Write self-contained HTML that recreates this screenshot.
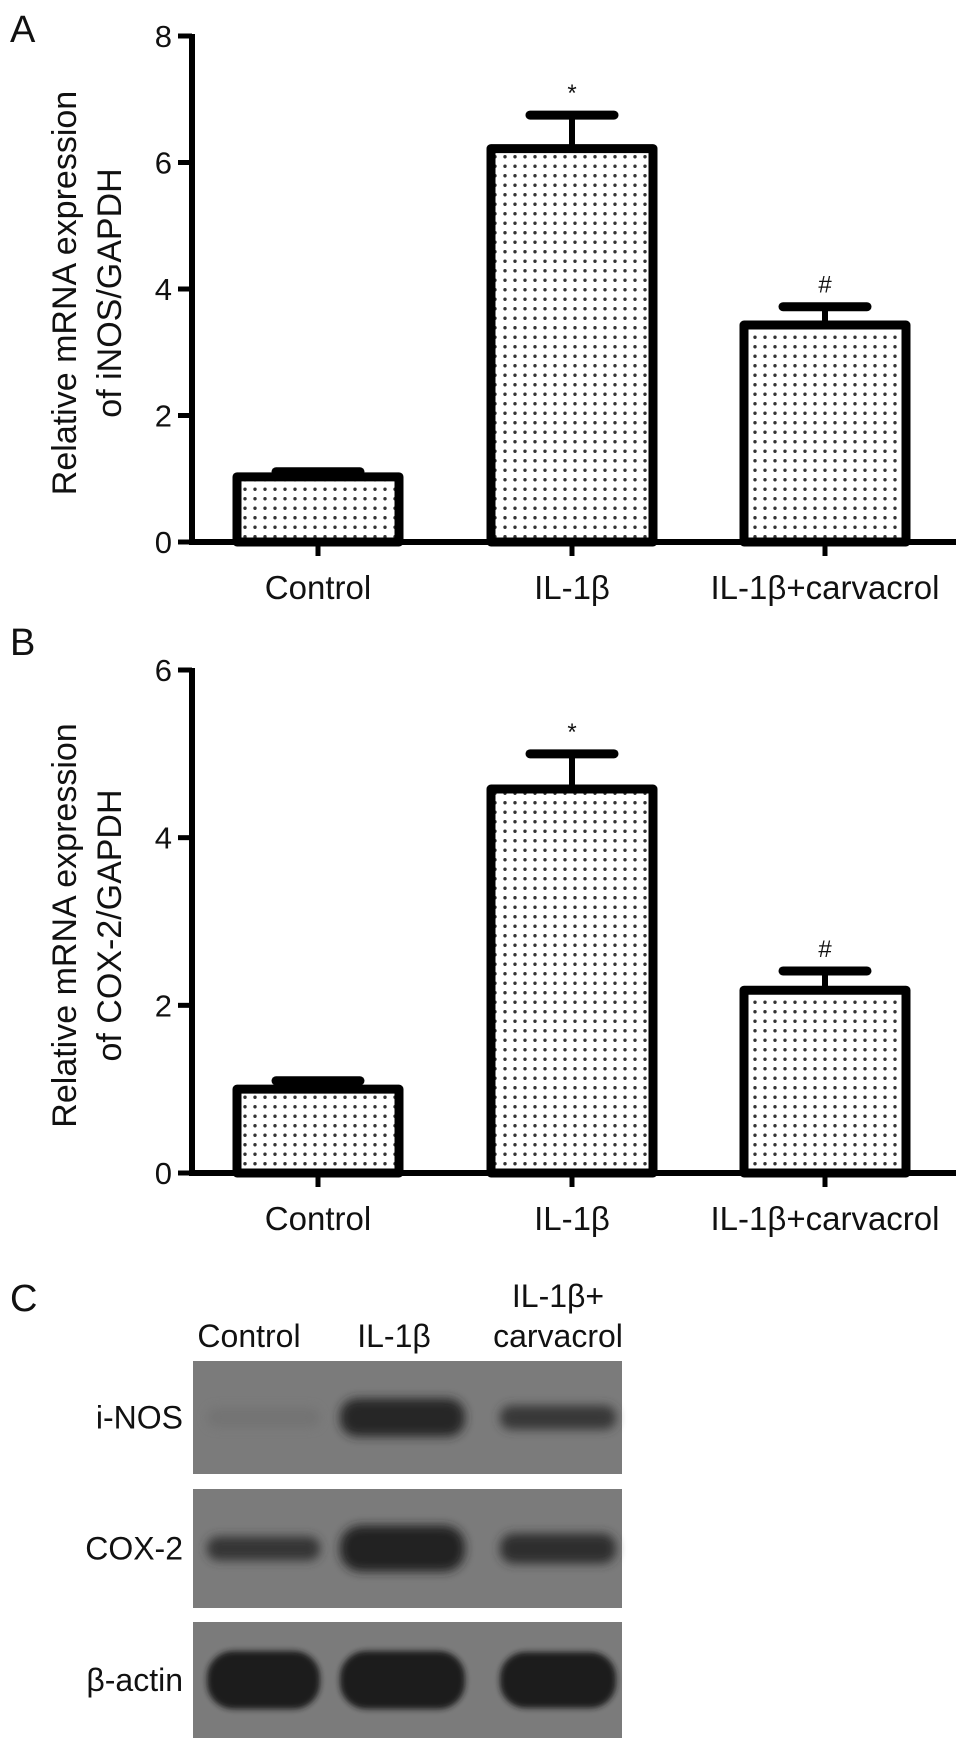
<!DOCTYPE html>
<html>
<head>
<meta charset="utf-8">
<style>
  html,body{margin:0;padding:0;background:#fff;}
  svg{display:block;}
  text{font-family:"Liberation Sans",Arial,sans-serif;fill:#111;}
</style>
</head>
<body>
<svg id="fig" width="969" height="1750" viewBox="0 0 969 1750" xmlns="http://www.w3.org/2000/svg">
  <defs>
    <pattern id="dots" x="0" y="0" width="10" height="9.5" patternUnits="userSpaceOnUse">
      <rect width="10" height="9.5" fill="#fff"/>
      <circle cx="5" cy="4.75" r="1.7" fill="#333"/>
    </pattern>
    <filter id="blur6" x="-20%" y="-60%" width="140%" height="220%"><feGaussianBlur stdDeviation="5"/></filter>
    <filter id="blur3" x="-20%" y="-60%" width="140%" height="220%"><feGaussianBlur stdDeviation="3"/></filter>
  </defs>
  <text x="10" y="42" font-size="38">A</text>
  <text x="10" y="655" font-size="38">B</text>
  <text x="10" y="1311" font-size="38">C</text>
  <g id="chartA"></g>
  <g id="chartB"></g>
  <g id="blots"></g>
</svg>
<script>
const categories = ["Control", "IL-1β", "IL-1β+carvacrol"];
const inosMeans = [1.03, 6.22, 3.43];
const inosErrors = [0.08, 0.53, 0.29];
const inosMarks = ["", "*", "#"];
const inosTicks = [0, 2, 4, 6, 8];
const coxMeans = [1.0, 4.58, 2.18];
const coxErrors = [0.1, 0.42, 0.23];
const coxMarks = ["", "*", "#"];
const coxTicks = [0, 2, 4, 6];

const NS = "http://www.w3.org/2000/svg";
function mk(tag, attrs, parent) {
  const e = document.createElementNS(NS, tag);
  for (const k in attrs) e.setAttribute(k, attrs[k]);
  parent.appendChild(e);
  return e;
}

function drawChart(g, cfg) {
  const axisX = 192, xEnd = 956;
  const y = v => cfg.y0 - (v / cfg.max) * (cfg.y0 - cfg.yTop);
  const centers = [318, 572, 825];
  const bw = 162;
  categories.forEach((c, i) => {
    const top = y(cfg.means[i]);
    const bar = mk("rect", {x: centers[i] - bw/2, y: top, width: bw, height: cfg.y0 - top,
      fill: "url(#dots)", stroke: "#000", "stroke-width": 9, "stroke-linejoin": "round"}, g);
    
    
    const eTop = y(cfg.means[i] + cfg.errs[i]);
    const stem = mk("line", {x1: centers[i], x2: centers[i], y1: top, y2: eTop, stroke: "#000", "stroke-width": 6}, g);
    
    
    const cap = mk("line", {x1: centers[i] - 42, x2: centers[i] + 42, y1: eTop, y2: eTop, stroke: "#000", "stroke-width": 9, "stroke-linecap": "round"}, g);
    
    
    if (cfg.marks[i]) {
      const m = mk("text", {x: centers[i], y: eTop - 14, "font-size": 24, "text-anchor": "middle"}, g);
      m.textContent = cfg.marks[i];
      
      
    }
    const t = mk("line", {x1: centers[i], x2: centers[i], y1: cfg.y0, y2: cfg.y0 + 14, stroke: "#000", "stroke-width": 5}, g);
    
    
    const lab = mk("text", {x: centers[i], y: cfg.y0 + 57, "font-size": 33, "text-anchor": "middle"}, g);
    lab.textContent = c;
    
    
  });
  const ya = mk("line", {x1: axisX, x2: axisX, y1: cfg.yTop - 2, y2: cfg.y0 + 3, stroke: "#000", "stroke-width": 6}, g);
  
  
  const xa = mk("line", {x1: axisX - 3, x2: xEnd, y1: cfg.y0, y2: cfg.y0, stroke: "#000", "stroke-width": 6}, g);
  
  
  cfg.ticks.forEach(v => {
    const tk = mk("line", {x1: axisX - 14, x2: axisX, y1: y(v), y2: y(v), stroke: "#000", "stroke-width": 5}, g);
    
    
    const tl = mk("text", {x: axisX - 20, y: y(v) + 11, "font-size": 31, "text-anchor": "end"}, g);
    tl.textContent = v;
    
    
  });
  const tc = (cfg.y0 + cfg.yTop) / 2 + 4;
  const t1 = mk("text", {x: 0, y: 0, "font-size": 34, "text-anchor": "middle", transform: `translate(76,${tc}) rotate(-90)`}, g);
  t1.textContent = "Relative mRNA expression";
  
  
  const t2 = mk("text", {x: 0, y: 0, "font-size": 34, "text-anchor": "middle", transform: `translate(121,${tc}) rotate(-90)`}, g);
  t2.textContent = cfg.title2;
  
  
}

drawChart(document.getElementById("chartA"), {y0: 542, yTop: 36, max: 8, means: inosMeans, errs: inosErrors, marks: inosMarks, ticks: inosTicks, title2: "of iNOS/GAPDH"});
drawChart(document.getElementById("chartB"), {y0: 1173, yTop: 670, max: 6, means: coxMeans, errs: coxErrors, marks: coxMarks, ticks: coxTicks, title2: "of COX-2/GAPDH"});

const blotRows = ["i-NOS", "COX-2", "β-actin"];
const bandIntensity = [[0.08, 0.9, 0.7], [0.75, 0.95, 0.8], [1, 1, 1]];
const bandHeights = [[20, 38, 24], [24, 46, 30], [58, 58, 56]];
(function(){
  const g = document.getElementById("blots");
  const bx = 193, bwid = 429;
  const rowsY = [[1361, 1474], [1489, 1608], [1622, 1738]];
  const laneX = [[207, 320], [340, 465], [500, 616]];
  const laneLabelX = [249, 394, 558];
  const l1 = mk("text", {x: laneLabelX[0], y: 1347, "font-size": 32, "text-anchor": "middle"}, g);
  l1.textContent = "Control";
  
  
  const l2 = mk("text", {x: laneLabelX[1], y: 1347, "font-size": 32, "text-anchor": "middle"}, g);
  l2.textContent = "IL-1β";
  
  
  const l3 = mk("text", {x: laneLabelX[2], y: 1307, "font-size": 32, "text-anchor": "middle"}, g);
  l3.textContent = "IL-1β+";
  
  
  const l4 = mk("text", {x: laneLabelX[2], y: 1347, "font-size": 32, "text-anchor": "middle"}, g);
  l4.textContent = "carvacrol";
  
  
  blotRows.forEach((r, i) => {
    const [t, b] = rowsY[i];
    const box = mk("rect", {x: bx, y: t, width: bwid, height: b - t, fill: "#7b7b7b"}, g);
    
    
    const cy = (t + b) / 2;
    laneX.forEach((lx, j) => {
      const v = bandIntensity[i][j];
      const shade = Math.round(123 - v * 95);
      const band = mk("rect", {x: lx[0], y: cy - bandHeights[i][j]/2, width: lx[1] - lx[0], height: bandHeights[i][j],
        rx: bandHeights[i][j]/2.2, fill: `rgb(${shade},${shade},${shade})`, filter: i === 2 ? "url(#blur3)" : "url(#blur6)"}, g);
      
      
    });
    const lab = mk("text", {x: 183, y: cy + 11, "font-size": 32, "text-anchor": "end"}, g);
    lab.textContent = r;
    
    
  });
})();
</script>
</body>
</html>
